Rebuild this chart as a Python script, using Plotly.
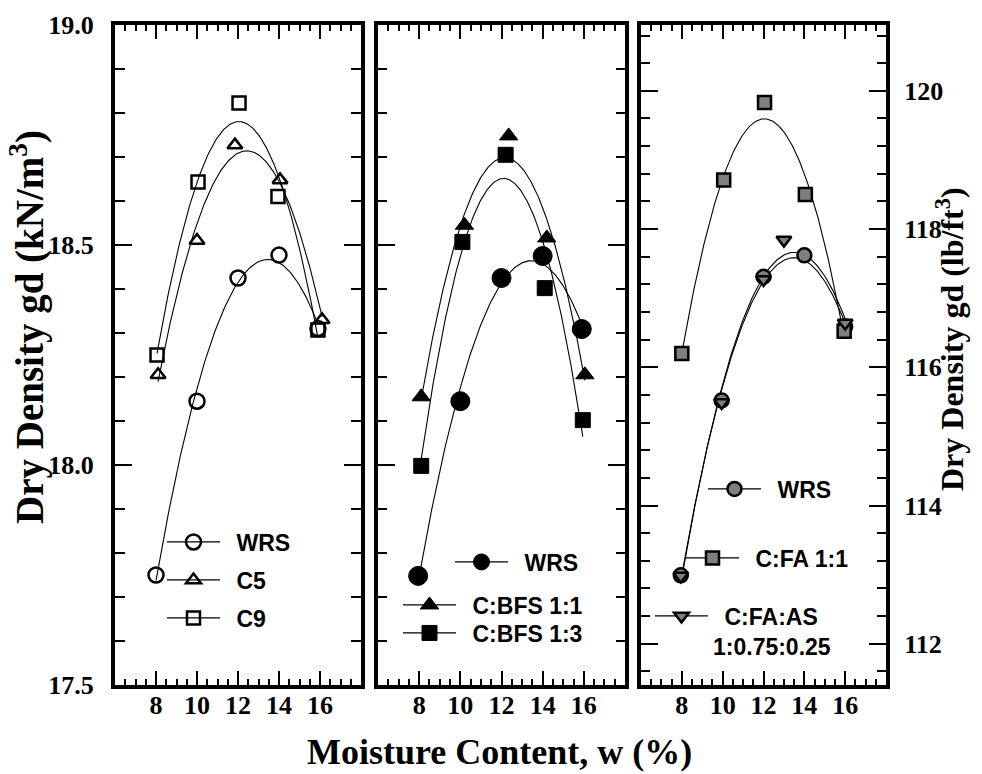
import numpy as np
import plotly.graph_objects as go

W, H = 982, 774
KN_TO_PCF = 6.3659  # 1 kN/m3 = 6.3659 lb/ft3

moisture_ticks = [8, 10, 12, 14, 16]
kn_ticks = [17.5, 18.0, 18.5, 19.0]
pcf_ticks = [112, 114, 116, 118, 120]

# Panel 1 (kN/m3)
p1_wrs_x = [8.0, 10.0, 12.0, 14.0, 15.9]
p1_wrs_y = [17.75, 18.145, 18.425, 18.477, 18.31]
p1_c5_x = [8.1, 10.0, 11.85, 14.05, 16.1]
p1_c5_y = [18.205, 18.51, 18.727, 18.648, 18.33]
p1_c9_x = [8.05, 10.05, 12.05, 13.95, 15.9]
p1_c9_y = [18.25, 18.643, 18.823, 18.61, 18.307]

# Panel 2 (kN/m3)
p2_wrs_x = [7.95, 10.0, 12.0, 14.0, 15.9]
p2_wrs_y = [17.748, 18.145, 18.425, 18.475, 18.309]
p2_bfs11_x = [8.1, 10.2, 12.35, 14.2, 16.05]
p2_bfs11_y = [18.155, 18.545, 18.748, 18.516, 18.205]
p2_bfs13_x = [8.1, 10.1, 12.2, 14.1, 15.95]
p2_bfs13_y = [17.998, 18.507, 18.705, 18.402, 18.102]

# Panel 3 (lb/ft3)
p3_wrs_x = [7.95, 9.95, 12.0, 14.0, 16.0]
p3_wrs_y = [112.99, 115.52, 117.31, 117.62, 116.59]
p3_fa_x = [8.0, 10.05, 12.05, 14.05, 15.95]
p3_fa_y = [116.2, 118.71, 119.83, 118.5, 116.52]
p3_fas_x = [7.95, 9.95, 12.0, 13.0, 16.0]
p3_fas_y = [112.98, 115.49, 117.27, 117.84, 116.64]

names = ["WRS", "C5", "C9", "WRS", "C:BFS 1:1", "C:BFS 1:3",
         "WRS", "C:FA 1:1", "C:FA:AS<br>1:0.75:0.25"]

GRAY = "#7f7f7f"
open_m = lambda sym, s: dict(symbol=sym, size=s, color="rgba(0,0,0,0)",
                             line=dict(color="black", width=2.5))
fill_m = lambda sym, s: dict(symbol=sym, size=s, color="black",
                             line=dict(color="black", width=1))
gray_m = lambda sym, s: dict(symbol=sym, size=s, color=GRAY,
                             line=dict(color="black", width=2.5))

series = [
    (p1_wrs_x, p1_wrs_y, "x", "y", open_m("circle", 15)),
    (p1_c5_x, p1_c5_y, "x", "y", open_m("triangle-up", 13)),
    (p1_c9_x, p1_c9_y, "x", "y", open_m("square", 13)),
    (p2_wrs_x, p2_wrs_y, "x2", "y2", fill_m("circle", 19)),
    (p2_bfs11_x, p2_bfs11_y, "x2", "y2", fill_m("triangle-up", 16)),
    (p2_bfs13_x, p2_bfs13_y, "x2", "y2", fill_m("square", 15)),
    (p3_wrs_x, p3_wrs_y, "x3", "y3", gray_m("circle", 14)),
    (p3_fa_x, p3_fa_y, "x3", "y3", gray_m("square", 13)),
    (p3_fas_x, p3_fas_y, "x3", "y3", gray_m("triangle-down", 13)),
]

# legend rows: (line start px, row centre px)
legend_pos = [(167, 542), (167, 580), (167, 618),
              (455, 562), (403, 605), (403, 633),
              (708, 489), (686, 558), (655, 631)]
LEG_DX, LEG_DY = -13, -8

fig = go.Figure()

# least-squares quadratic compaction curves (drawn under the markers)
for xs, ys, xa, ya, mk in series:
    xf = np.linspace(min(xs), max(xs), 200)
    coef = np.polyfit(xs, ys, 2)
    fig.add_trace(go.Scatter(x=xf, y=np.polyval(coef, xf), mode="lines",
                             line=dict(color="black", width=1.1),
                             xaxis=xa, yaxis=ya, showlegend=False,
                             hoverinfo="skip"))

legend_layout = {}
for i, ((xs, ys, xa, ya, mk), name, (lx, ly)) in enumerate(zip(series, names, legend_pos)):
    gx, gy = [], []
    for a, b in zip(xs, ys):
        gx += [a, None]
        gy += [b, None]
    lname = "legend" if i == 0 else f"legend{i+1}"
    fig.add_trace(go.Scatter(x=gx, y=gy, mode="lines+markers",
                             line=dict(color="black", width=1.2),
                             marker=mk, name="\u2002" + name,
                             legend=lname, connectgaps=False,
                             xaxis=xa, yaxis=ya))
    legend_layout[lname] = dict(
        x=(lx + LEG_DX) / W, y=1 - (ly + LEG_DY) / H, xanchor="left", yanchor="middle",
        bgcolor="rgba(0,0,0,0)", borderwidth=0, itemwidth=53,
        valign="top",
        font=dict(family="Liberation Sans", size=23, color="black",
                  weight="bold"))

tickfont = dict(family="Liberation Serif", size=26, color="black", weight="bold")
xdomains = [(107 / W, 353 / W), (370 / W, 617 / W), (633 / W, 878 / W)]
ydom = (1 - 677 / H, 1 - 17 / H)

common = dict(showgrid=False, zeroline=False, showline=True, linewidth=4,
              linecolor="black", mirror="allticks", ticks="inside",
              tickcolor="black", tickwidth=2, automargin=False)

for k, dom in enumerate(xdomains):
    key = "xaxis" if k == 0 else f"xaxis{k+1}"
    fig.layout[key] = dict(
        common, domain=dom, range=[6, 18], anchor="y" if k == 0 else f"y{k+1}",
        tickmode="array", tickvals=moisture_ticks,
        ticktext=[f"<b>{t}</b>" for t in moisture_ticks], ticklen=14,
        tickfont=tickfont, ticklabelstandoff=-6,
        minor=dict(tickmode="linear", tick0=6, dtick=0.5, ticks="inside",
                   ticklen=6, tickwidth=1.5, tickcolor="black"))

kn_range = [17.5, 19.0]
fig.layout["yaxis"] = dict(
    common, domain=ydom, range=kn_range, anchor="x",
    tickmode="array", tickvals=kn_ticks,
    ticktext=[f"<b>{t:.1f}</b>" for t in kn_ticks],
    ticklen=17, tickfont=tickfont, ticklabelstandoff=12,
    minor=dict(tickmode="linear", tick0=17.5, dtick=0.1, ticks="inside",
               ticklen=10, tickwidth=2, tickcolor="black"))
fig.layout["yaxis2"] = dict(
    common, domain=ydom, range=kn_range, anchor="x2",
    tickmode="array", tickvals=kn_ticks, showticklabels=False, ticklen=17,
    minor=dict(tickmode="linear", tick0=17.5, dtick=0.1, ticks="inside",
               ticklen=9, tickwidth=2, tickcolor="black"))
fig.layout["yaxis3"] = dict(
    common, domain=ydom, side="right",
    range=[kn_range[0] * KN_TO_PCF, kn_range[1] * KN_TO_PCF], anchor="x3",
    tickmode="array", tickvals=pcf_ticks,
    ticktext=[f"<b>{t}</b>" for t in pcf_ticks],
    ticklen=17, tickfont=tickfont, ticklabelstandoff=9,
    minor=dict(tickmode="linear", tick0=112, dtick=0.4, ticks="inside",
               ticklen=9, tickwidth=2, tickcolor="black"))

fig.update_layout(
    width=W, height=H, margin=dict(l=0, r=0, t=0, b=0),
    paper_bgcolor="white", plot_bgcolor="white", template="none",
    **legend_layout,
    annotations=[
        dict(text="<b>Dry Density gd (kN/m<sup>3</sup>)</b>", x=19 / W, y=1 - 319 / H,
             xref="paper", yref="paper", showarrow=False, textangle=-90,
             xanchor="center", yanchor="middle",
             font=dict(family="Liberation Serif", size=39, color="black")),
        dict(text="<b>Dry Density gd (lb/ft<sup>3</sup>)</b>", x=942 / W, y=1 - 331 / H,
             xref="paper", yref="paper", showarrow=False, textangle=-90,
             xanchor="center", yanchor="middle",
             font=dict(family="Liberation Serif", size=32, color="black")),
        dict(text="<b>Moisture Content, w (%)</b>", x=492 / W, y=1 - 744 / H,
             xref="paper", yref="paper", showarrow=False,
             xanchor="center", yanchor="middle",
             font=dict(family="Liberation Serif", size=36, color="black")),
    ],
)

fig.write_html("out.html")
